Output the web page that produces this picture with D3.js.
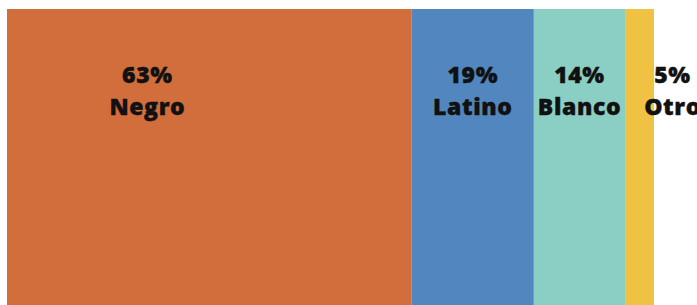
<!DOCTYPE html>
<html>
<head>
<meta charset="utf-8">
<script src="https://cdn.jsdelivr.net/npm/d3@7"></script>
<style>
  html, body { margin: 0; padding: 0; background: #fff; }
  svg { display: block; }
  .lbl { font-family: "Open Sans", Lato, sans-serif; font-weight: 800; fill: #111; stroke: #111; stroke-width: 0.4px; letter-spacing: 0.6px; }
</style>
</head>
<body>
<div id="chart"></div>
<script>
// shares (the bar widths), and the printed labels
const categories = ['Negro', 'Latino', 'Blanco', 'Otro'];
const shares = [63, 19, 14.2, 4.5];
const pctLabels = ['63%', '19%', '14%', '5%'];
const colors = ['#d26e3b', '#5286be', '#8bcfc4', '#f0c244'];

const width = 697, height = 305;
const margin = {top: 9, left: 7, right: 43, bottom: 0};

// label nudges (px) relative to each segment centre
const labelShift = [-62, 0, 0, 33];

const svg = d3.select('#chart')
    .append('svg')
    .attr('width', width)
    .attr('height', height);

const total = d3.sum(shares);
const x = d3.scaleLinear()
    .domain([0, total])
    .range([margin.left, width - margin.right]);

let acc = 0;
const segs = shares.map((v, i) => {
    const s = {i: i, name: categories[i], pct: pctLabels[i], x0: acc, x1: acc + v};
    acc += v;
    return s;
});

svg.selectAll('rect.seg')
    .data(segs)
    .enter()
    .append('rect')
    .attr('class', 'seg')
    .attr('x', d => x(d.x0))
    .attr('y', margin.top)
    .attr('width', d => x(d.x1) - x(d.x0))
    .attr('height', height - margin.top - margin.bottom)
    .attr('fill', d => colors[d.i]);

const lbl = svg.selectAll('g.lbl')
    .data(segs)
    .enter()
    .append('g')
    .attr('transform', d => 'translate(' + ((x(d.x0) + x(d.x1)) / 2 + labelShift[d.i]) + ',0)');

lbl.append('text')
    .attr('class', 'lbl')
    .attr('text-anchor', 'middle')
    .attr('y', 83)
    .attr('font-size', 23)
    .text(d => d.pct);

lbl.append('text')
    .attr('class', 'lbl')
    .attr('text-anchor', 'middle')
    .attr('y', 115)
    .attr('font-size', 23)
    .text(d => d.name);
</script>
</body>
</html>
